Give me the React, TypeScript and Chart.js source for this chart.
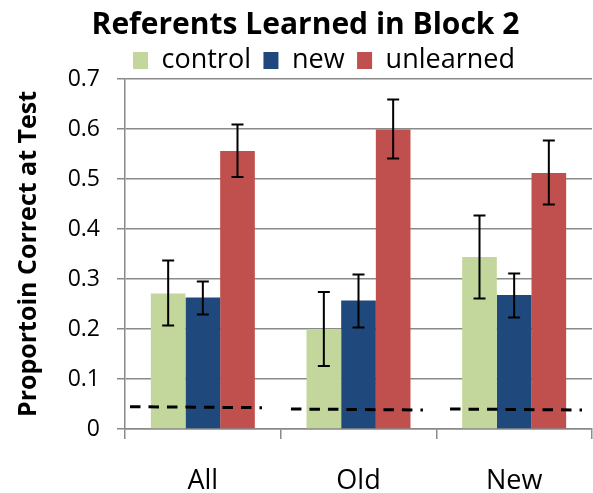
import React, { useEffect, useRef } from "react";
import { Chart, registerables } from "chart.js";

Chart.register(...registerables);

// ---- data ----
const categories = ["All", "Old", "New"];
const seriesNames = ["control", "new", "unlearned"];
const seriesColors = ["#C3D69B", "#1F497D", "#C0504D"];

const controlValues = [0.271, 0.2, 0.344];
const newValues = [0.263, 0.257, 0.268];
const unlearnedValues = [0.556, 0.599, 0.512];

const controlHigh = [0.337, 0.274, 0.427];
const controlLow = [0.207, 0.126, 0.261];
const newHigh = [0.295, 0.309, 0.311];
const newLow = [0.229, 0.203, 0.223];
const unlearnedHigh = [0.609, 0.659, 0.577];
const unlearnedLow = [0.504, 0.541, 0.449];

// chance lines (x in category units, centre of category i = i)
const chanceStartX = [-0.468, 0.566, 1.588];
const chanceEndX = [0.38, 1.414, 2.436];
const chanceStartY = [0.0446, 0.04, 0.04];
const chanceEndY = [0.0426, 0.038, 0.038];

const yMax = 0.7;
const yStep = 0.1;

const titleText = "Referents Learned in Block 2";
const yTitleText = "Proportoin Correct at Test";

const FONT = "'Open Sans', 'Noto Sans', sans-serif";
const GRID = "#8a8a8a";

const seriesValues = [controlValues, newValues, unlearnedValues];
const seriesHigh = [controlHigh, newHigh, unlearnedHigh];
const seriesLow = [controlLow, newLow, unlearnedLow];

const overlayPlugin = {
  id: "overlay",
  afterDatasetsDraw(chart: any) {
    const ctx = chart.ctx;
    const x = chart.scales.x;
    const y = chart.scales.y;
    // dashed chance lines
    ctx.save();
    ctx.strokeStyle = "#000";
    ctx.lineWidth = 3;
    ctx.lineCap = "butt";
    ctx.setLineDash([10.5, 8]);
    chanceStartX.forEach((sx, i) => {
      ctx.beginPath();
      ctx.moveTo(x.getPixelForValue(sx), y.getPixelForValue(chanceStartY[i]));
      ctx.lineTo(x.getPixelForValue(chanceEndX[i]), y.getPixelForValue(chanceEndY[i]));
      ctx.stroke();
    });
    ctx.restore();
    // error bars
    seriesHigh.forEach((highs, di) => {
      const meta = chart.getDatasetMeta(di);
      meta.data.forEach((bar: any, j: number) => {
        const bx = bar.x;
        const yHi = y.getPixelForValue(highs[j]);
        const yLo = y.getPixelForValue(seriesLow[di][j]);
        ctx.save();
        ctx.strokeStyle = "#000";
        ctx.lineWidth = 2;
        ctx.beginPath();
        ctx.moveTo(bx, yHi);
        ctx.lineTo(bx, yLo);
        ctx.moveTo(bx - 6, yHi);
        ctx.lineTo(bx + 6, yHi);
        ctx.moveTo(bx - 6, yLo);
        ctx.lineTo(bx + 6, yLo);
        ctx.stroke();
        ctx.restore();
      });
    });
  },
};

const LEGEND_PAD = 12.5;

const placeBoxesPlugin = {
  id: "placeBoxes",
  afterLayout(chart: any) {
    const t = chart.titleBlock;
    if (t) {
      const h = t.height;
      t.left = 18;
      t.right = 593;
      t.top = 13;
      t.bottom = t.top + h;
    }
    const l = chart.legend;
    if (l) {
      const h = l.height;
      l.left = 133 - LEGEND_PAD;
      l.right = 593;
      l.top = 47 - LEGEND_PAD;
      l.bottom = l.top + h;
    }
  },
};

export default function App() {
  const ref = useRef<HTMLCanvasElement>(null);

  useEffect(() => {
    if (!ref.current) return;
    const barSets = seriesNames.map((name, i) => ({
      label: name,
      data: seriesValues[i],
      backgroundColor: seriesColors[i],
      borderWidth: 0,
      categoryPercentage: 0.668,
      barPercentage: 1,
    }));

    const chart = new Chart(ref.current, {
      type: "bar",
      data: {
        labels: categories,
        datasets: barSets,
      },
      plugins: [overlayPlugin, placeBoxesPlugin],
      options: {
        animation: false,
        responsive: false,
        events: [],
        layout: { padding: { top: 5.5, right: 1, left: 0, bottom: 0 } },
        plugins: {
          tooltip: { enabled: false },
          title: {
            display: true,
            text: titleText,
            color: "#000",
            font: { family: FONT, size: 30, weight: "bold", lineHeight: 0.8 },
            padding: { top: 0, bottom: 0 },
          },
          legend: {
            display: true,
            position: "top",
            align: "start",
            labels: {
              color: "#000",
              font: { family: FONT, size: 27 },
              boxWidth: 15,
              boxHeight: 17,
              padding: LEGEND_PAD,
            },
          },
        },
        scales: {
          x: {
            type: "category",
            offset: true,
            grid: {
              display: true,
              drawOnChartArea: false,
              drawTicks: true,
              tickLength: 10,
              offset: true,
              color: GRID,
              lineWidth: 1.5,
            },
            border: { display: true, color: GRID, width: 1.5 },
            ticks: {
              color: "#000",
              font: { family: FONT, size: 27 },
              padding: 26,
              maxRotation: 0,
            },
            afterFit: (s: any) => {
              s.height = 64;
            },
          },
          y: {
            type: "linear",
            min: 0,
            max: yMax,
            grid: {
              color: GRID,
              lineWidth: 1.5,
              drawTicks: true,
              tickLength: 8,
            },
            border: { display: true, color: GRID, width: 1.5 },
            ticks: {
              stepSize: yStep,
              color: "#000",
              font: { family: FONT, size: 23 },
              padding: 17,
              callback: (v: any) => (Number(v) === 0 ? "0" : Number(v).toFixed(1)),
            },
            title: {
              display: true,
              text: yTitleText,
              color: "#000",
              font: { family: FONT, size: 25, weight: "bold" },
              padding: { top: 14, bottom: 0 },
            },
            afterFit: (s: any) => {
              s.width = 125;
            },
          },
        },
      } as any,
    });
    return () => chart.destroy();
  }, []);

  return (
    <div style={{ position: "absolute", left: 0, top: 0, width: 593, height: 493 }}>
      <canvas ref={ref} width={593} height={493} style={{ display: "block" }} />
    </div>
  );
}
